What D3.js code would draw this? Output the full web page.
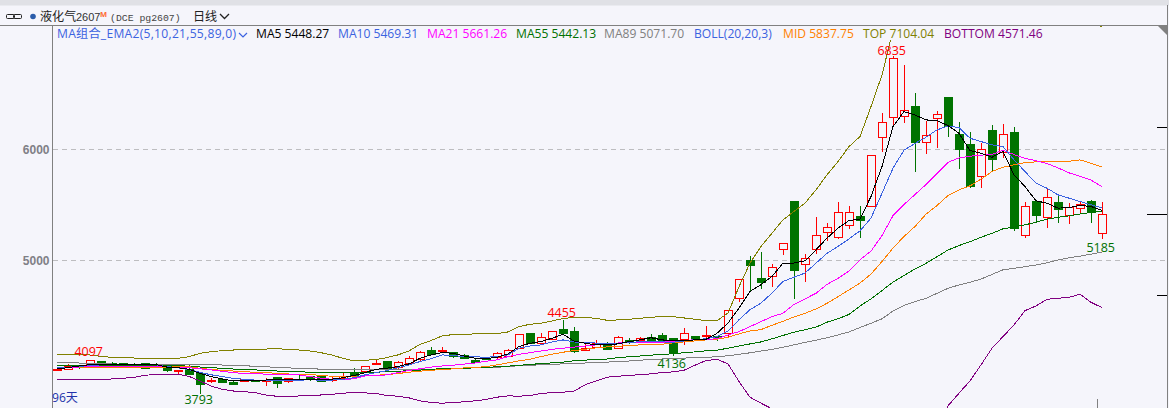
<!DOCTYPE html>
<html><head><meta charset="utf-8">
<script src="https://cdn.jsdelivr.net/npm/d3@7"></script>
<style>
html,body{margin:0;padding:0;background:#f5f5fb;overflow:hidden}
svg{display:block}
text{font-family:"Open Sans","Noto Sans CJK SC",sans-serif;font-size:12.1px}
</style></head><body>
<svg id="c" width="1169" height="408"></svg>
<script>
const open=[4015,4021,4045,4058,4090,4068,4068,4066,4068,4060,4055,4003,4020,3985,3910,3928,3904,3905,3920,3916,3946,3904,3925,3952,3955,3922,3937,3988,4000,4065,4090,4030,4067,4105,4190,4188,4168,4141,4102,4117,4120,4135,4205,4342,4250,4288,4379,4361,4196,4220,4243,4205,4279,4285,4303,4324,4297,4285,4315,4310,4315,4339,4655,5000,4835,4850,5096,5531,4961,5096,5249,5210,5312,5396,5483,6105,6291,6294,6387,6060,6276,6468,6135,6045,5751,6171,5970,6153,5222,5528,5384,5519,5403,5476,5530,5240];
const close=[4021,4045,4035,4097,4060,4055,4058,4055,4021,4055,4010,4008,3976,3886,3915,3900,3886,3925,3918,3920,3895,3934,3923,3925,3913,3926,3955,3964,4042,4070,4030,4078,4115,4168,4157,4193,4135,4111,4087,4105,4160,4186,4330,4250,4303,4358,4346,4180,4211,4255,4198,4303,4262,4300,4280,4265,4175,4340,4285,4322,4295,4547,4826,4955,4796,4934,5150,4910,5018,5222,5294,5435,5429,5363,5943,6240,6820,6348,6066,6123,6312,6210,6003,5670,5997,5913,6132,5291,5483,5399,5565,5453,5478,5509,5428,5411];
const high=[4022,4060,4048,4097,4090,4078,4070,4068,4070,4072,4062,4010,4052,3990,3940,3935,3906,3926,3921,3940,3948,3936,3972,3955,3956,3943,3978,4024,4048,4105,4090,4090,4135,4183,4213,4220,4170,4150,4120,4120,4168,4195,4335,4342,4340,4360,4455,4394,4255,4280,4264,4315,4297,4303,4336,4340,4299,4388,4318,4405,4318,4547,4830,5036,5069,4961,5150,5531,5054,5384,5330,5519,5486,5486,5943,6321,6835,6757,6507,6255,6342,6468,6240,6150,6051,6216,6225,6198,5519,5530,5640,5592,5511,5527,5542,5521];
const low=[4012,4015,4015,4055,4060,4050,4056,4052,4020,4050,3995,3970,3972,3793,3888,3898,3876,3900,3916,3868,3850,3895,3920,3912,3910,3900,3932,3960,3980,4060,4020,4015,4055,4087,4155,4175,4118,4105,4075,4100,4105,4130,4200,4240,4245,4280,4340,4160,4190,4207,4196,4198,4243,4250,4270,4260,4136,4238,4275,4300,4270,4294,4625,4715,4740,4760,5045,4651,4805,5054,5171,5186,5276,5201,5480,5976,6216,6237,5796,5955,6006,6111,5820,5652,5652,5802,5919,5264,5201,5330,5291,5336,5327,5425,5336,5185];

const ma5=[4020,4030,4045,4058,4062,4062,4062,4062,4062,4058,4035,4030,4015,3979,3950,3928,3910,3912,3915,3919,3920,3919,3920,3922,3924,3926,3940,3960,3985,4015,4025,4040,4064,4115,4145,4166,4160,4135,4115,4112,4124,4154,4220,4250,4265,4295,4331,4270,4250,4235,4238,4244,4265,4280,4300,4280,4274,4274,4280,4285,4340,4432,4567,4717,4777,4852,4972,4972,4993,5092,5197,5287,5356,5368,5572,5842,6202,6337,6307,6262,6256,6211,6142,5986,5962,5926,5977,5767,5662,5533,5512,5467,5473,5491,5482,5448];
const ma10=[4030,4034,4042,4048,4055,4058,4060,4062,4060,4055,4040,4028,4012,3988,3966,3950,3934,3925,3918,3915,3915,3916,3918,3920,3918,3918,3925,3940,3965,3985,4004,4030,4055,4085,4110,4145,4140,4130,4128,4124,4130,4145,4205,4225,4235,4262,4280,4262,4255,4252,4248,4250,4255,4265,4268,4262,4259,4270,4282,4290,4310,4360,4462,4552,4612,4702,4807,4845,4882,4972,5060,5122,5190,5263,5377,5602,5827,5990,6050,6106,6172,6208,6193,6097,6067,6037,6022,5902,5797,5692,5647,5587,5557,5527,5497,5469];
const ma21=[4032,4034,4036,4043,4044,4044,4044,4043,4042,4041,4037,4033,4030,4020,4010,3998,3985,3978,3975,3972,3970,3970,3965,3950,3935,3925,3922,3930,3955,3960,3965,3985,4005,4020,4035,4045,4052,4062,4072,4088,4100,4130,4150,4165,4180,4195,4205,4215,4225,4235,4240,4252,4255,4258,4260,4260,4265,4275,4282,4285,4290,4325,4355,4400,4445,4490,4520,4600,4650,4700,4780,4835,4900,5002,5080,5220,5400,5500,5590,5680,5780,5880,5920,5935,5945,5950,5990,5950,5915,5895,5870,5830,5785,5755,5720,5661];
const ma55=[4054,4054,4054,4053,4052,4052,4051,4050,4050,4049,4048,4047,4044,4036,4030,4024,4018,4014,4010,4005,4000,3996,3992,3990,3988,3988,3987,3987,3987,3990,3993,3997,4003,4008,4016,4020,4022,4025,4028,4033,4038,4044,4050,4060,4066,4073,4080,4092,4098,4103,4108,4120,4128,4135,4143,4150,4155,4165,4172,4182,4187,4206,4225,4244,4262,4290,4320,4350,4372,4395,4440,4470,4510,4585,4650,4725,4800,4860,4920,4970,5030,5090,5130,5165,5205,5240,5281,5296,5317,5340,5368,5385,5398,5415,5428,5442];
const ma89=[4075,4074,4072,4070,4065,4063,4063,4063,4062,4062,4057,4057,4056,4058,4056,4054,4050,4047,4043,4038,4032,4028,4024,4020,4017,4016,4016,4015,4014,4014,4014,4013,4012,4012,4015,4020,4023,4026,4028,4030,4034,4040,4048,4052,4056,4060,4064,4068,4072,4076,4080,4085,4090,4097,4104,4108,4112,4116,4122,4124,4128,4138,4150,4164,4180,4194,4214,4236,4258,4278,4300,4325,4352,4392,4430,4470,4540,4590,4625,4655,4700,4745,4775,4800,4828,4870,4912,4925,4940,4955,4975,5000,5020,5035,5052,5071];
const mid=[4033,4033,4033,4033,4033,4033,4033,4033,4033,4033,4033,4039,4039,4024,4015,4006,4000,3994,3988,3985,3979,3973,3970,3967,3961,3952,3949,3946,3956,3962,3968,3977,3989,3998,4007,4013,4019,4028,4031,4040,4055,4073,4091,4106,4130,4151,4169,4184,4196,4208,4217,4223,4229,4235,4238,4241,4253,4262,4271,4280,4286,4304,4334,4361,4373,4412,4448,4487,4520,4559,4610,4670,4730,4792,4873,4987,5107,5212,5302,5413,5491,5581,5632,5668,5728,5797,5836,5857,5878,5884,5890,5890,5890,5902,5872,5838];
const top_=[4153,4153,4150,4144,4132,4123,4120,4117,4114,4114,4114,4114,4129,4159,4174,4183,4189,4192,4195,4198,4201,4195,4189,4180,4165,4144,4114,4090,4097,4103,4121,4145,4181,4241,4274,4316,4328,4331,4334,4337,4337,4352,4400,4421,4430,4451,4472,4484,4481,4475,4457,4460,4466,4475,4484,4490,4490,4478,4466,4454,4453,4522,4760,4972,5122,5242,5362,5437,5512,5632,5767,5887,6022,6112,6382,6667,7072,7350,7500,7650,7800,7950,8050,8200,8300,8350,8400,8450,8300,8000,7700,7400,7200,7108,7125,7104];
const bottom=[3925,3925,3925,3925,3925,3928,3934,3943,3961,3970,3970,3970,3952,3910,3865,3835,3820,3814,3805,3784,3772,3772,3775,3778,3784,3790,3799,3808,3803,3797,3779,3773,3758,3731,3716,3710,3716,3722,3731,3743,3764,3776,3773,3779,3797,3806,3809,3818,3875,3911,3944,3953,3959,3968,3974,3986,3992,4007,4052,4094,4106,4064,3905,3764,3710,3659,3620,3590,3560,3510,3450,3380,3290,3170,3000,2900,2900,3000,3150,3350,3500,3686,3800,3911,4055,4205,4310,4415,4544,4586,4646,4655,4664,4691,4619,4571];

const yTicks=[5000,6000];
const extremes=[
 {i:3,v:4097,t:"4097",hi:true,dy:-4},{i:13,v:3793,t:"3793",hi:false,dy:10.5},{i:46,v:4455,t:"4455",hi:true,dy:-3.5},
 {i:56,v:4136,t:"4136",hi:false,dy:12},{i:76,v:6835,t:"6835",hi:true,dy:-1.5},{i:95,v:5185,t:"5185",hi:false,dy:12.5}];
const legend=[
 {t:"MA组合_EMA2(5,10,21,55,89,0)",c:"#3b62e0",x:57,w:179},
 {t:"MA5 5448.27",c:"#000",x:256},{t:"MA10 5469.31",c:"#3b62e0",x:338},
 {t:"MA21 5661.26",c:"#ff00ff",x:427},{t:"MA55 5442.13",c:"#007000",x:516},
 {t:"MA89 5071.70",c:"#808080",x:604},{t:"BOLL(20,20,3)",c:"#3b62e0",x:694},
 {t:"MID 5837.75",c:"#ff8000",x:783},{t:"TOP 7104.04",c:"#808000",x:863},
 {t:"BOTTOM 4571.46",c:"#800080",x:944}];

const svg=d3.select("#c");
const x=d3.scaleLinear().domain([0,95]).range([57,1102]);
const y=d3.scaleLinear().domain([5000,6000]).range([260,149]);
const snap=v=>Math.round(v)+.5;

svg.append("rect").attr("width",1169).attr("height",408).attr("fill","#f5f5fb");
svg.append("rect").attr("width",1169).attr("height",5.5).attr("fill","#e0e1e6");

// grid + y axis
const axis=d3.axisLeft(y).tickValues(yTicks).tickSize(0).tickPadding(3).tickFormat(d3.format("d"));
const ga=svg.append("g").attr("transform","translate(52.5,0.8)").call(axis);
ga.select(".domain").remove();
ga.selectAll("text").attr("fill","#7f7f86").attr("font-weight","600").style("font-size","12px").style("font-family",'"Liberation Sans",sans-serif');
svg.append("g").selectAll("line").data(yTicks).join("line")
 .attr("x1",53).attr("x2",1166).attr("y1",d=>snap(y(d))).attr("y2",d=>snap(y(d)))
 .attr("stroke","#bdbdc0").attr("stroke-dasharray","5,4");

svg.append("clipPath").attr("id","plot").append("rect").attr("x",53).attr("y",25).attr("width",1114).attr("height",383);
const plot=svg.append("g").attr("clip-path","url(#plot)").attr("shape-rendering","crispEdges");

// candles
const idx=d3.range(open.length);
const RED="#ff0000",GRN="#007300";
const cg=plot.append("g").selectAll("g").data(idx).join("g");
cg.append("line").attr("x1",i=>snap(x(i))).attr("x2",i=>snap(x(i))).attr("y1",i=>y(high[i])).attr("y2",i=>y(low[i]))
 .attr("stroke",i=>close[i]>=open[i]?RED:GRN);
cg.append("rect")
 .attr("x",i=>snap(x(i))-4).attr("width",8)
 .attr("y",i=>Math.round(y(Math.max(open[i],close[i])))+.5)
 .attr("height",i=>Math.max(1,Math.round(Math.abs(y(open[i])-y(close[i])))))
 .attr("fill",i=>close[i]>=open[i]?"#f5f5fb":GRN)
 .attr("stroke",i=>close[i]>=open[i]?RED:GRN);

// lines
const line=d3.line().x((d,i)=>x(i)).y(d=>y(d));
[[ma89,"#808080"],[top_,"#808000"],[bottom,"#800080"],[ma55,"#007000"],[mid,"#ff8000"],[ma21,"#ff00ff"],[ma10,"#3b62e0"],[ma5,"#000"]]
 .forEach(([s,c])=>plot.append("path").datum(s).attr("d",line).attr("fill","none").attr("stroke",c).attr("stroke-width",1));

// frame + legend backing
svg.append("rect").attr("x",53).attr("y",26).attr("width",995).attr("height",14).attr("fill","#f5f5fb");
svg.append("line").attr("x1",0).attr("x2",1168).attr("y1",25.5).attr("y2",25.5).attr("stroke","#808080");
svg.append("line").attr("x1",52.5).attr("x2",52.5).attr("y1",26).attr("y2",408).attr("stroke","#808080");
svg.append("line").attr("x1",1167.5).attr("x2",1167.5).attr("y1",5).attr("y2",408).attr("stroke","#808080");
svg.append("path").attr("d","M1158 26H1167V35Z").attr("fill","#808080");
[[127,1157],[214,1147],[295,1157]].forEach(([py,x0])=>svg.append("line").attr("x1",x0).attr("x2",1167).attr("y1",py+.5).attr("y2",py+.5).attr("stroke","#000"));
svg.append("line").attr("x1",1097.5).attr("x2",1097.5).attr("y1",399).attr("y2",408).attr("stroke","#808080");

// labels on extremes
svg.append("g").selectAll("text").data(extremes).join("text")
 .attr("x",d=>x(d.i)-1.3).attr("y",d=>y(d.v)+d.dy)
 .attr("text-anchor","middle").attr("fill",d=>d.hi?"#ff0000":"#007000").style("font-size","12.5px").text(d=>d.t);
svg.append("text").attr("x",52).attr("y",402).attr("fill","#2233aa").text("96天");

// legend
svg.append("g").selectAll("text").data(legend).join("text")
 .attr("x",d=>d.x).attr("y",37.5).attr("fill",d=>d.c)
 .each(function(d){if(d.w)d3.select(this).attr("textLength",d.w).attr("lengthAdjust","spacing");})
 .text(d=>d.t);
svg.append("path").attr("d","M239 33l4 4 4-4").attr("fill","none").attr("stroke","#3b62e0").attr("stroke-width",1.2);

// header
const h=svg.append("g");
h.append("rect").attr("x",6.5).attr("y",14.5).attr("width",8).attr("height",4).attr("rx",1).attr("fill","none").attr("stroke","#222");
h.append("rect").attr("x",13.5).attr("y",14.5).attr("width",8).attr("height",4).attr("rx",1).attr("fill","none").attr("stroke","#222");
h.append("circle").attr("cx",33).attr("cy",16.5).attr("r",2.8).attr("fill","#2a5caa");
h.append("text").attr("x",40).attr("y",21).attr("fill","#222").text("液化气");
h.append("text").attr("x",76).attr("y",21).attr("fill","#333").style("font-family",'"Liberation Sans"').style("font-size","11px").text("2607");
h.append("text").attr("x",100).attr("y",17).attr("fill","#ff6a33").style("font-size","7.5px").attr("font-weight","700").text("M");
h.append("text").attr("x",110).attr("y",20.5).attr("fill","#444").style("font-family",'"Liberation Mono"').style("font-size","9.8px").text("(DCE pg2607)");
h.append("text").attr("x",193).attr("y",21).attr("fill","#222").text("日线");
h.append("path").attr("d","M220 14l4.5 4.5 4.5-4.5").attr("fill","none").attr("stroke","#222").attr("stroke-width",1.3);
</script></body></html>
